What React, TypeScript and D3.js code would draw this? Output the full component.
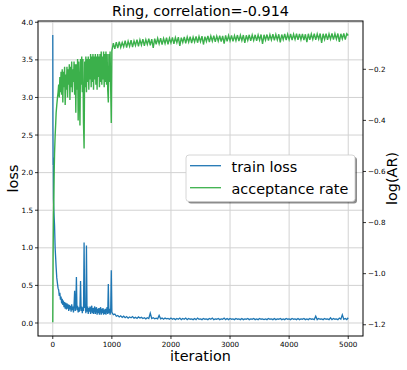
import React from 'react';
import * as d3 from 'd3';

// first iterations, sampled unevenly because both curves move fast here
const headIter = [0, 3, 6, 9, 12, 18, 24, 30, 40, 50, 57, 68, 80, 90];
const headLoss = [3.83, 2.6, 2.1, 2.2, 1.65, 1.5, 1.4, 1.3, 1.0, 0.85, 0.74, 0.6, 0.52, 0.46];
const headLogAR = [-1.19, -1.05, -0.92, -0.85, -0.78, -0.7, -0.6, -0.53, -0.46, -0.41, -0.37, -0.34, -0.31, -0.29];

// iterations 100..990, every 10
const midLoss = [
  0.44, 0.36, 0.40, 0.31, 0.35, 0.26, 0.32, 0.24, 0.30, 0.21,
  0.28, 0.19, 0.27, 0.18, 0.26, 0.19, 0.25, 0.16, 0.24, 0.18,
  0.23, 0.15, 0.25, 0.17, 0.22, 0.14, 0.24, 0.43, 0.16, 0.22,
  0.61, 0.17, 0.23, 0.14, 0.21, 0.15, 0.22, 0.56, 0.16, 0.22,
  0.13, 0.21, 0.16, 1.07, 0.20, 0.24, 0.13, 1.03, 0.15, 0.22,
  0.12, 0.20, 0.15, 0.22, 0.12, 0.19, 0.23, 0.13, 0.20, 0.12,
  0.19, 0.22, 0.12, 0.18, 0.21, 0.11, 0.19, 0.13, 0.20, 0.11,
  0.18, 0.21, 0.11, 0.19, 0.13, 0.20, 0.11, 0.18, 0.12, 0.19,
  0.11, 0.17, 0.21, 0.12, 0.52, 0.13, 0.19, 0.11, 0.17, 0.70,
];
const midLogAR = [
  -0.26, -0.31, -0.23, -0.29, -0.21, -0.30, -0.20, -0.33, -0.21, -0.27,
  -0.19, -0.34, -0.22, -0.28, -0.19, -0.31, -0.20, -0.26, -0.18, -0.32,
  -0.19, -0.27, -0.17, -0.29, -0.20, -0.25, -0.17, -0.30, -0.18, -0.37,
  -0.18, -0.28, -0.16, -0.40, -0.17, -0.27, -0.42, -0.16, -0.26, -0.15,
  -0.29, -0.16, -0.41, -0.51, -0.17, -0.27, -0.15, -0.29, -0.16, -0.25,
  -0.15, -0.28, -0.16, -0.24, -0.14, -0.27, -0.15, -0.25, -0.14, -0.28,
  -0.15, -0.24, -0.14, -0.26, -0.15, -0.28, -0.14, -0.23, -0.15, -0.27,
  -0.14, -0.25, -0.13, -0.26, -0.15, -0.24, -0.13, -0.27, -0.14, -0.25,
  -0.13, -0.26, -0.14, -0.28, -0.33, -0.14, -0.25, -0.13, -0.27, -0.41,
];

// iterations 1000..5000, every 25
const tailLoss = [
  0.14, 0.11, 0.12, 0.09, 0.10, 0.08, 0.095, 0.075,
  0.09, 0.07, 0.085, 0.065, 0.08, 0.07, 0.085, 0.065,
  0.075, 0.06, 0.08, 0.065, 0.075, 0.06, 0.07, 0.055,
  0.07, 0.06, 0.13, 0.06, 0.07, 0.055, 0.065, 0.055,
  0.10, 0.055, 0.065, 0.05, 0.065, 0.055, 0.06, 0.05,
  0.065, 0.05, 0.06, 0.045, 0.06, 0.05, 0.065, 0.045,
  0.06, 0.05, 0.065, 0.045, 0.06, 0.05, 0.055, 0.045,
  0.06, 0.045, 0.065, 0.05, 0.055, 0.045, 0.06, 0.05,
  0.055, 0.045, 0.06, 0.05, 0.065, 0.045, 0.055, 0.05,
  0.06, 0.045, 0.055, 0.05, 0.065, 0.045, 0.06, 0.045,
  0.06, 0.05, 0.055, 0.045, 0.06, 0.05, 0.055, 0.045,
  0.06, 0.045, 0.055, 0.05, 0.06, 0.045, 0.055, 0.05,
  0.06, 0.045, 0.055, 0.045, 0.06, 0.05, 0.055, 0.045,
  0.055, 0.045, 0.06, 0.05, 0.055, 0.045, 0.06, 0.045,
  0.055, 0.05, 0.06, 0.045, 0.055, 0.045, 0.06, 0.05,
  0.055, 0.045, 0.06, 0.05, 0.055, 0.045, 0.06, 0.045,
  0.055, 0.05, 0.06, 0.045, 0.055, 0.045, 0.06, 0.05,
  0.055, 0.045, 0.09, 0.045, 0.06, 0.05, 0.055, 0.045,
  0.06, 0.05, 0.055, 0.045, 0.07, 0.045, 0.06, 0.05,
  0.055, 0.045, 0.065, 0.05, 0.11, 0.05, 0.06, 0.045,
  0.07,
];
const tailLogAR = [
  -0.128, -0.098, -0.120, -0.094, -0.117, -0.092, -0.114, -0.095,
  -0.112, -0.088, -0.115, -0.090, -0.110, -0.086, -0.113, -0.089,
  -0.107, -0.084, -0.110, -0.085, -0.105, -0.082, -0.108, -0.084,
  -0.103, -0.080, -0.106, -0.082, -0.116, -0.080, -0.102, -0.079,
  -0.100, -0.078, -0.103, -0.079, -0.099, -0.076, -0.102, -0.078,
  -0.097, -0.075, -0.100, -0.076, -0.096, -0.074, -0.108, -0.076,
  -0.095, -0.073, -0.098, -0.074, -0.094, -0.072, -0.097, -0.074,
  -0.093, -0.071, -0.096, -0.072, -0.092, -0.070, -0.103, -0.072,
  -0.091, -0.069, -0.094, -0.070, -0.090, -0.068, -0.093, -0.070,
  -0.090, -0.068, -0.092, -0.069, -0.100, -0.067, -0.091, -0.068,
  -0.089, -0.067, -0.091, -0.068, -0.088, -0.066, -0.090, -0.067,
  -0.088, -0.066, -0.097, -0.067, -0.087, -0.065, -0.089, -0.066,
  -0.087, -0.065, -0.089, -0.066, -0.086, -0.064, -0.101, -0.065,
  -0.086, -0.064, -0.088, -0.065, -0.085, -0.063, -0.087, -0.064,
  -0.085, -0.063, -0.095, -0.064, -0.084, -0.062, -0.086, -0.063,
  -0.084, -0.062, -0.086, -0.063, -0.083, -0.061, -0.085, -0.062,
  -0.084, -0.062, -0.086, -0.063, -0.094, -0.061, -0.085, -0.062,
  -0.083, -0.061, -0.085, -0.062, -0.082, -0.060, -0.097, -0.061,
  -0.083, -0.061, -0.085, -0.062, -0.082, -0.060, -0.084, -0.061,
  -0.082, -0.060, -0.093, -0.061, -0.081, -0.060, -0.084, -0.061,
  -0.068,
];

const xTicks = [0, 1000, 2000, 3000, 4000, 5000];
const lossTicks = [0, 0.5, 1, 1.5, 2, 2.5, 3, 3.5, 4];
const arTicks = [-1.2, -1.0, -0.8, -0.6, -0.4, -0.2];
const seriesNames = ['train loss', 'acceptance rate'];

const W = 407;
const H = 370;
const left = 38, right = 363, top = 21, bottom = 336;
const BLUE = '#1f77b4';
const GREEN = '#3bb04b';
const FONT = 'DejaVu Sans, sans-serif';

const iters = [...headIter, ...d3.range(100, 1000, 10), ...d3.range(1000, 5001, 25)];
const lossVals = [...headLoss, ...midLoss, ...tailLoss];
const arVals = [...headLogAR, ...midLogAR, ...tailLogAR];

export default function App() {
  const x = d3.scaleLinear().domain([-250, 5250]).range([left, right]);
  const yLoss = d3.scaleLinear().domain([-0.173, 4.017]).range([bottom, top]);
  const yAR = d3.scaleLinear().domain([-1.244, -0.011]).range([bottom, top]);

  const lossLine = d3.line<number>()
    .x((_, i) => x(iters[i]))
    .y(d => yLoss(d));
  const arLine = d3.line<number>()
    .x((_, i) => x(iters[i]))
    .y(d => yAR(d));

  const fmtMinus = (v: number) => d3.format('.1f')(v).replace('-', '\u2212');

  return (
    <svg width={W} height={H} style={{ position: 'absolute', left: 0, top: 0, background: '#fff' }}
      fontFamily={FONT}>
      <rect x={0} y={0} width={W} height={H} fill="#fff" />

      {/* grid */}
      <g stroke="#d2d2d2" strokeWidth={1}>
        {xTicks.map(t => (
          <line key={'gx' + t} x1={x(t)} x2={x(t)} y1={top} y2={bottom} />
        ))}
        {lossTicks.map(t => (
          <line key={'gy' + t} x1={left} x2={right} y1={yLoss(t)} y2={yLoss(t)} />
        ))}
      </g>

      <path d={lossLine(lossVals) || ''} fill="none" stroke={BLUE} strokeWidth={1.3} />
      <path d={arLine(arVals) || ''} fill="none" stroke={GREEN} strokeWidth={1.4} />

      {/* spines */}
      <rect x={left} y={top} width={right - left} height={bottom - top}
        fill="none" stroke="#000" strokeWidth={1} />

      {/* x axis */}
      {xTicks.map(t => (
        <g key={'xt' + t}>
          <line x1={x(t)} x2={x(t)} y1={bottom} y2={bottom + 3} stroke="#000" strokeWidth={0.8} />
          <text x={x(t)} y={bottom + 10.5} fontSize={7.2} textAnchor="middle" fill="#000">{t}</text>
        </g>
      ))}

      {/* left axis */}
      {lossTicks.map(t => (
        <g key={'yl' + t}>
          <line x1={left - 3} x2={left} y1={yLoss(t)} y2={yLoss(t)} stroke="#000" strokeWidth={0.8} />
          <text x={left - 5} y={yLoss(t)} dy="0.35em" fontSize={7.2} textAnchor="end" fill="#000">
            {d3.format('.1f')(t)}
          </text>
        </g>
      ))}

      {/* right axis */}
      {arTicks.map(t => (
        <g key={'yr' + t}>
          <line x1={right} x2={right + 3} y1={yAR(t)} y2={yAR(t)} stroke="#000" strokeWidth={0.8} />
          <text x={right + 5} y={yAR(t)} dy="0.35em" fontSize={7.2} textAnchor="start" fill="#000">
            {fmtMinus(t)}
          </text>
        </g>
      ))}

      <text x={(left + right) / 2} y={16} fontSize={14.4} textAnchor="middle" fill="#000">
        Ring, correlation=-0.914
      </text>
      <text x={(left + right) / 2} y={361} fontSize={14.4} textAnchor="middle" fill="#000">iteration</text>
      <text transform={`translate(17.5,${(top + bottom) / 2}) rotate(-90)`} fontSize={14.4}
        textAnchor="middle" fill="#000">loss</text>
      <text transform={`translate(397,${(top + bottom) / 2}) rotate(-90)`} fontSize={14.4}
        textAnchor="middle" fill="#000">log(AR)</text>

      {/* legend */}
      <g>
        <rect x={188} y={157} width={169} height={46.5} rx={3} fill="#000" opacity={0.45} />
        <rect x={186} y={155} width={169} height={46.5} rx={3} fill="#fff" stroke="#cccccc" strokeWidth={0.8} />
        {seriesNames.map((name, i) => (
          <g key={name}>
            <line x1={190} x2={221} y1={165.7 + i * 22} y2={165.7 + i * 22}
              stroke={i === 0 ? BLUE : GREEN} strokeWidth={1.3} />
            <text x={231.5} y={171.5 + i * 22} fontSize={14.4} fill="#000">{name}</text>
          </g>
        ))}
      </g>
    </svg>
  );
}
